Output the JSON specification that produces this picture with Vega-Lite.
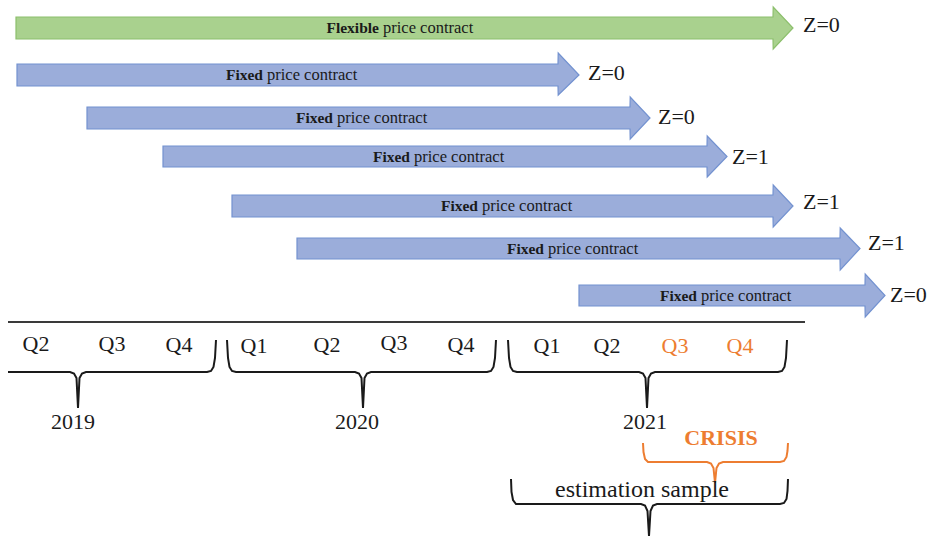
{
  "$schema": "https://vega.github.io/schema/vega-lite/v6.json",
  "width": 931,
  "height": 536,
  "padding": 0,
  "autosize": {"type": "fit", "contains": "padding"},
  "background": "white",
  "config": {"view": {"stroke": null}, "font": "Liberation Serif"},
  "datasets": {
    "arrows": [
      {"id": "A0", "kind": "flexible", "x": 16, "y": 17, "y2": 39},
      {"id": "A0", "kind": "flexible", "x": 773, "y": 17, "y2": 39},
      {"id": "A0", "kind": "flexible", "x": 773.2, "y": 7, "y2": 49},
      {"id": "A0", "kind": "flexible", "x": 793, "y": 28, "y2": 28},
      {"id": "A1", "kind": "fixed", "x": 17, "y": 64, "y2": 86},
      {"id": "A1", "kind": "fixed", "x": 558, "y": 64, "y2": 86},
      {"id": "A1", "kind": "fixed", "x": 558.2, "y": 53, "y2": 95},
      {"id": "A1", "kind": "fixed", "x": 579, "y": 75, "y2": 75},
      {"id": "A2", "kind": "fixed", "x": 87, "y": 107, "y2": 129},
      {"id": "A2", "kind": "fixed", "x": 630, "y": 107, "y2": 129},
      {"id": "A2", "kind": "fixed", "x": 630.2, "y": 97, "y2": 139},
      {"id": "A2", "kind": "fixed", "x": 650, "y": 118, "y2": 118},
      {"id": "A3", "kind": "fixed", "x": 163, "y": 146, "y2": 167},
      {"id": "A3", "kind": "fixed", "x": 707, "y": 146, "y2": 167},
      {"id": "A3", "kind": "fixed", "x": 707.2, "y": 136, "y2": 177},
      {"id": "A3", "kind": "fixed", "x": 727, "y": 156.5, "y2": 156.5},
      {"id": "A4", "kind": "fixed", "x": 232, "y": 195, "y2": 217},
      {"id": "A4", "kind": "fixed", "x": 773, "y": 195, "y2": 217},
      {"id": "A4", "kind": "fixed", "x": 773.2, "y": 185, "y2": 227},
      {"id": "A4", "kind": "fixed", "x": 793, "y": 206, "y2": 206},
      {"id": "A5", "kind": "fixed", "x": 297, "y": 238, "y2": 259},
      {"id": "A5", "kind": "fixed", "x": 840, "y": 238, "y2": 259},
      {"id": "A5", "kind": "fixed", "x": 840.2, "y": 228, "y2": 270},
      {"id": "A5", "kind": "fixed", "x": 860, "y": 248.5, "y2": 248.5},
      {"id": "A6", "kind": "fixed", "x": 579, "y": 285, "y2": 306},
      {"id": "A6", "kind": "fixed", "x": 865, "y": 285, "y2": 306},
      {"id": "A6", "kind": "fixed", "x": 865.2, "y": 274, "y2": 317},
      {"id": "A6", "kind": "fixed", "x": 885, "y": 295.5, "y2": 295.5}
    ],
    "arrowlabels": [
      {"x": 379, "y": 28, "bold": "Flexible", "rest": "price contract"},
      {"x": 263, "y": 75, "bold": "Fixed", "rest": "price contract"},
      {"x": 333, "y": 118, "bold": "Fixed", "rest": "price contract"},
      {"x": 410, "y": 157, "bold": "Fixed", "rest": "price contract"},
      {"x": 478, "y": 206, "bold": "Fixed", "rest": "price contract"},
      {"x": 544, "y": 249, "bold": "Fixed", "rest": "price contract"},
      {"x": 697, "y": 296, "bold": "Fixed", "rest": "price contract"}
    ],
    "zlabels": [
      {"x": 803, "y": 25, "text": "Z=0"},
      {"x": 588, "y": 73, "text": "Z=0"},
      {"x": 658, "y": 117, "text": "Z=0"},
      {"x": 732, "y": 157, "text": "Z=1"},
      {"x": 803, "y": 202, "text": "Z=1"},
      {"x": 868, "y": 243, "text": "Z=1"},
      {"x": 890, "y": 295, "text": "Z=0"}
    ],
    "quarters": [
      {"x": 36, "y": 344, "text": "Q2", "group": "period"},
      {"x": 112, "y": 344, "text": "Q3", "group": "period"},
      {"x": 179, "y": 345, "text": "Q4", "group": "period"},
      {"x": 254, "y": 346, "text": "Q1", "group": "period"},
      {"x": 327, "y": 345, "text": "Q2", "group": "period"},
      {"x": 394, "y": 343, "text": "Q3", "group": "period"},
      {"x": 461, "y": 345, "text": "Q4", "group": "period"},
      {"x": 547, "y": 346, "text": "Q1", "group": "period"},
      {"x": 607, "y": 346, "text": "Q2", "group": "period"},
      {"x": 675, "y": 346, "text": "Q3", "group": "crisis"},
      {"x": 740, "y": 346, "text": "Q4", "group": "crisis"}
    ],
    "years": [
      {"x": 73, "y": 422, "text": "2019"},
      {"x": 357, "y": 422, "text": "2020"},
      {"x": 645, "y": 422, "text": "2021"}
    ],
    "braces": [
      {"id": "b2019", "group": "period", "o": 1, "x": 8, "y": 372},
      {"id": "b2019", "group": "period", "o": 2, "x": 70, "y": 372},
      {"id": "b2019", "group": "period", "o": 3, "x": 74, "y": 373.5},
      {"id": "b2019", "group": "period", "o": 4, "x": 76.5, "y": 378},
      {"id": "b2019", "group": "period", "o": 5, "x": 78, "y": 408},
      {"id": "b2019", "group": "period", "o": 6, "x": 79.5, "y": 378},
      {"id": "b2019", "group": "period", "o": 7, "x": 82, "y": 373.5},
      {"id": "b2019", "group": "period", "o": 8, "x": 86, "y": 372},
      {"id": "b2019", "group": "period", "o": 9, "x": 207, "y": 372},
      {"id": "b2019", "group": "period", "o": 10, "x": 211, "y": 371},
      {"id": "b2019", "group": "period", "o": 11, "x": 213.5, "y": 367},
      {"id": "b2019", "group": "period", "o": 12, "x": 215, "y": 358},
      {"id": "b2019", "group": "period", "o": 13, "x": 216, "y": 340},
      {"id": "b2020", "group": "period", "o": 1, "x": 227, "y": 340},
      {"id": "b2020", "group": "period", "o": 2, "x": 228, "y": 358},
      {"id": "b2020", "group": "period", "o": 3, "x": 229.5, "y": 367},
      {"id": "b2020", "group": "period", "o": 4, "x": 232, "y": 371},
      {"id": "b2020", "group": "period", "o": 5, "x": 236, "y": 372},
      {"id": "b2020", "group": "period", "o": 6, "x": 355, "y": 372},
      {"id": "b2020", "group": "period", "o": 7, "x": 359, "y": 373.5},
      {"id": "b2020", "group": "period", "o": 8, "x": 361.5, "y": 378},
      {"id": "b2020", "group": "period", "o": 9, "x": 363, "y": 408},
      {"id": "b2020", "group": "period", "o": 10, "x": 364.5, "y": 378},
      {"id": "b2020", "group": "period", "o": 11, "x": 367, "y": 373.5},
      {"id": "b2020", "group": "period", "o": 12, "x": 371, "y": 372},
      {"id": "b2020", "group": "period", "o": 13, "x": 487, "y": 372},
      {"id": "b2020", "group": "period", "o": 14, "x": 491, "y": 371},
      {"id": "b2020", "group": "period", "o": 15, "x": 493.5, "y": 367},
      {"id": "b2020", "group": "period", "o": 16, "x": 495, "y": 358},
      {"id": "b2020", "group": "period", "o": 17, "x": 496, "y": 340},
      {"id": "b2021", "group": "period", "o": 1, "x": 508, "y": 340},
      {"id": "b2021", "group": "period", "o": 2, "x": 509, "y": 358},
      {"id": "b2021", "group": "period", "o": 3, "x": 510.5, "y": 367},
      {"id": "b2021", "group": "period", "o": 4, "x": 513, "y": 371},
      {"id": "b2021", "group": "period", "o": 5, "x": 517, "y": 372},
      {"id": "b2021", "group": "period", "o": 6, "x": 639, "y": 372},
      {"id": "b2021", "group": "period", "o": 7, "x": 643, "y": 373.5},
      {"id": "b2021", "group": "period", "o": 8, "x": 645.5, "y": 378},
      {"id": "b2021", "group": "period", "o": 9, "x": 647, "y": 408},
      {"id": "b2021", "group": "period", "o": 10, "x": 648.5, "y": 378},
      {"id": "b2021", "group": "period", "o": 11, "x": 651, "y": 373.5},
      {"id": "b2021", "group": "period", "o": 12, "x": 655, "y": 372},
      {"id": "b2021", "group": "period", "o": 13, "x": 778, "y": 372},
      {"id": "b2021", "group": "period", "o": 14, "x": 782, "y": 371},
      {"id": "b2021", "group": "period", "o": 15, "x": 784.5, "y": 367},
      {"id": "b2021", "group": "period", "o": 16, "x": 786, "y": 358},
      {"id": "b2021", "group": "period", "o": 17, "x": 787, "y": 340},
      {"id": "bcrisis", "group": "crisis", "o": 1, "x": 643, "y": 443},
      {"id": "bcrisis", "group": "crisis", "o": 2, "x": 643.5, "y": 452},
      {"id": "bcrisis", "group": "crisis", "o": 3, "x": 645, "y": 459},
      {"id": "bcrisis", "group": "crisis", "o": 4, "x": 648, "y": 462},
      {"id": "bcrisis", "group": "crisis", "o": 5, "x": 652, "y": 462},
      {"id": "bcrisis", "group": "crisis", "o": 6, "x": 707, "y": 462},
      {"id": "bcrisis", "group": "crisis", "o": 7, "x": 711, "y": 463.5},
      {"id": "bcrisis", "group": "crisis", "o": 8, "x": 713.5, "y": 468},
      {"id": "bcrisis", "group": "crisis", "o": 9, "x": 715, "y": 483},
      {"id": "bcrisis", "group": "crisis", "o": 10, "x": 716.5, "y": 468},
      {"id": "bcrisis", "group": "crisis", "o": 11, "x": 719, "y": 463.5},
      {"id": "bcrisis", "group": "crisis", "o": 12, "x": 723, "y": 462},
      {"id": "bcrisis", "group": "crisis", "o": 13, "x": 780, "y": 462},
      {"id": "bcrisis", "group": "crisis", "o": 14, "x": 784, "y": 461},
      {"id": "bcrisis", "group": "crisis", "o": 15, "x": 786.5, "y": 457},
      {"id": "bcrisis", "group": "crisis", "o": 16, "x": 787.5, "y": 451},
      {"id": "bcrisis", "group": "crisis", "o": 17, "x": 788, "y": 443},
      {"id": "best", "group": "period", "o": 1, "x": 511, "y": 479},
      {"id": "best", "group": "period", "o": 2, "x": 511.5, "y": 492},
      {"id": "best", "group": "period", "o": 3, "x": 513, "y": 500},
      {"id": "best", "group": "period", "o": 4, "x": 516, "y": 504},
      {"id": "best", "group": "period", "o": 5, "x": 520, "y": 504},
      {"id": "best", "group": "period", "o": 6, "x": 641, "y": 504},
      {"id": "best", "group": "period", "o": 7, "x": 645, "y": 505.5},
      {"id": "best", "group": "period", "o": 8, "x": 647.5, "y": 511},
      {"id": "best", "group": "period", "o": 9, "x": 649, "y": 536},
      {"id": "best", "group": "period", "o": 10, "x": 650.5, "y": 511},
      {"id": "best", "group": "period", "o": 11, "x": 653, "y": 505.5},
      {"id": "best", "group": "period", "o": 12, "x": 657, "y": 504},
      {"id": "best", "group": "period", "o": 13, "x": 780, "y": 504},
      {"id": "best", "group": "period", "o": 14, "x": 784, "y": 503},
      {"id": "best", "group": "period", "o": 15, "x": 786.5, "y": 499},
      {"id": "best", "group": "period", "o": 16, "x": 787.5, "y": 491},
      {"id": "best", "group": "period", "o": 17, "x": 788, "y": 479}
    ]
  },
  "encoding": {
    "x": {"field": "x", "type": "quantitative", "scale": {"domain": [0, 931], "nice": false, "zero": false}, "axis": null},
    "y": {"field": "y", "type": "quantitative", "scale": {"domain": [0, 536], "nice": false, "zero": false, "reverse": true}, "axis": null}
  },
  "layer": [
    {
      "data": {"name": "arrows"},
      "mark": {"type": "area", "orient": "vertical", "strokeWidth": 1.2, "opacity": 1, "fillOpacity": 1, "clip": true},
      "encoding": {
        "y2": {"field": "y2"},
        "detail": {"field": "id"},
        "fill": {"field": "kind", "type": "nominal", "scale": {"domain": ["flexible", "fixed"], "range": ["#a9d18e", "#9badda"]}, "legend": null},
        "stroke": {"field": "kind", "type": "nominal", "scale": {"domain": ["flexible", "fixed"], "range": ["#8cbf6c", "#7392d0"]}, "legend": null}
      }
    },
    {
      "data": {"name": "arrowlabels"},
      "mark": {"type": "text", "align": "right", "baseline": "middle", "fontWeight": "bold", "fontSize": 15.5, "color": "#1a1a1a"},
      "encoding": {"text": {"field": "bold"}}
    },
    {
      "data": {"name": "arrowlabels"},
      "mark": {"type": "text", "align": "left", "baseline": "middle", "dx": 4, "fontSize": 16.5, "color": "#1a1a1a"},
      "encoding": {"text": {"field": "rest"}}
    },
    {
      "data": {"name": "zlabels"},
      "mark": {"type": "text", "align": "left", "baseline": "middle", "fontSize": 22, "color": "#1a1a1a"},
      "encoding": {"text": {"field": "text"}}
    },
    {
      "data": {"values": [{"x": 8, "x2": 805, "y": 322}]},
      "mark": {"type": "rule", "color": "#3a3a3a", "strokeWidth": 2},
      "encoding": {"x2": {"field": "x2"}}
    },
    {
      "data": {"name": "braces"},
      "mark": {"type": "line", "strokeWidth": 2, "interpolate": "linear", "clip": true},
      "encoding": {
        "detail": {"field": "id"},
        "order": {"field": "o", "type": "quantitative"},
        "color": {"field": "group", "type": "nominal", "scale": {"domain": ["period", "crisis"], "range": ["#1a1a1a", "#ed7d31"]}, "legend": null}
      }
    },
    {
      "data": {"name": "quarters"},
      "mark": {"type": "text", "align": "center", "baseline": "middle", "fontSize": 22},
      "encoding": {
        "text": {"field": "text"},
        "color": {"field": "group", "type": "nominal", "scale": {"domain": ["period", "crisis"], "range": ["#1a1a1a", "#ed7d31"]}, "legend": null}
      }
    },
    {
      "data": {"name": "years"},
      "mark": {"type": "text", "align": "center", "baseline": "middle", "fontSize": 22, "color": "#1a1a1a"},
      "encoding": {"text": {"field": "text"}}
    },
    {
      "data": {"values": [{"x": 721, "y": 438, "text": "CRISIS"}]},
      "mark": {"type": "text", "align": "center", "baseline": "middle", "fontSize": 22, "fontWeight": "bold", "color": "#ed7d31"},
      "encoding": {"text": {"field": "text"}}
    },
    {
      "data": {"values": [{"x": 642, "y": 490, "text": "estimation sample"}]},
      "mark": {"type": "text", "align": "center", "baseline": "middle", "fontSize": 24, "color": "#1a1a1a"},
      "encoding": {"text": {"field": "text"}}
    }
  ]
}
